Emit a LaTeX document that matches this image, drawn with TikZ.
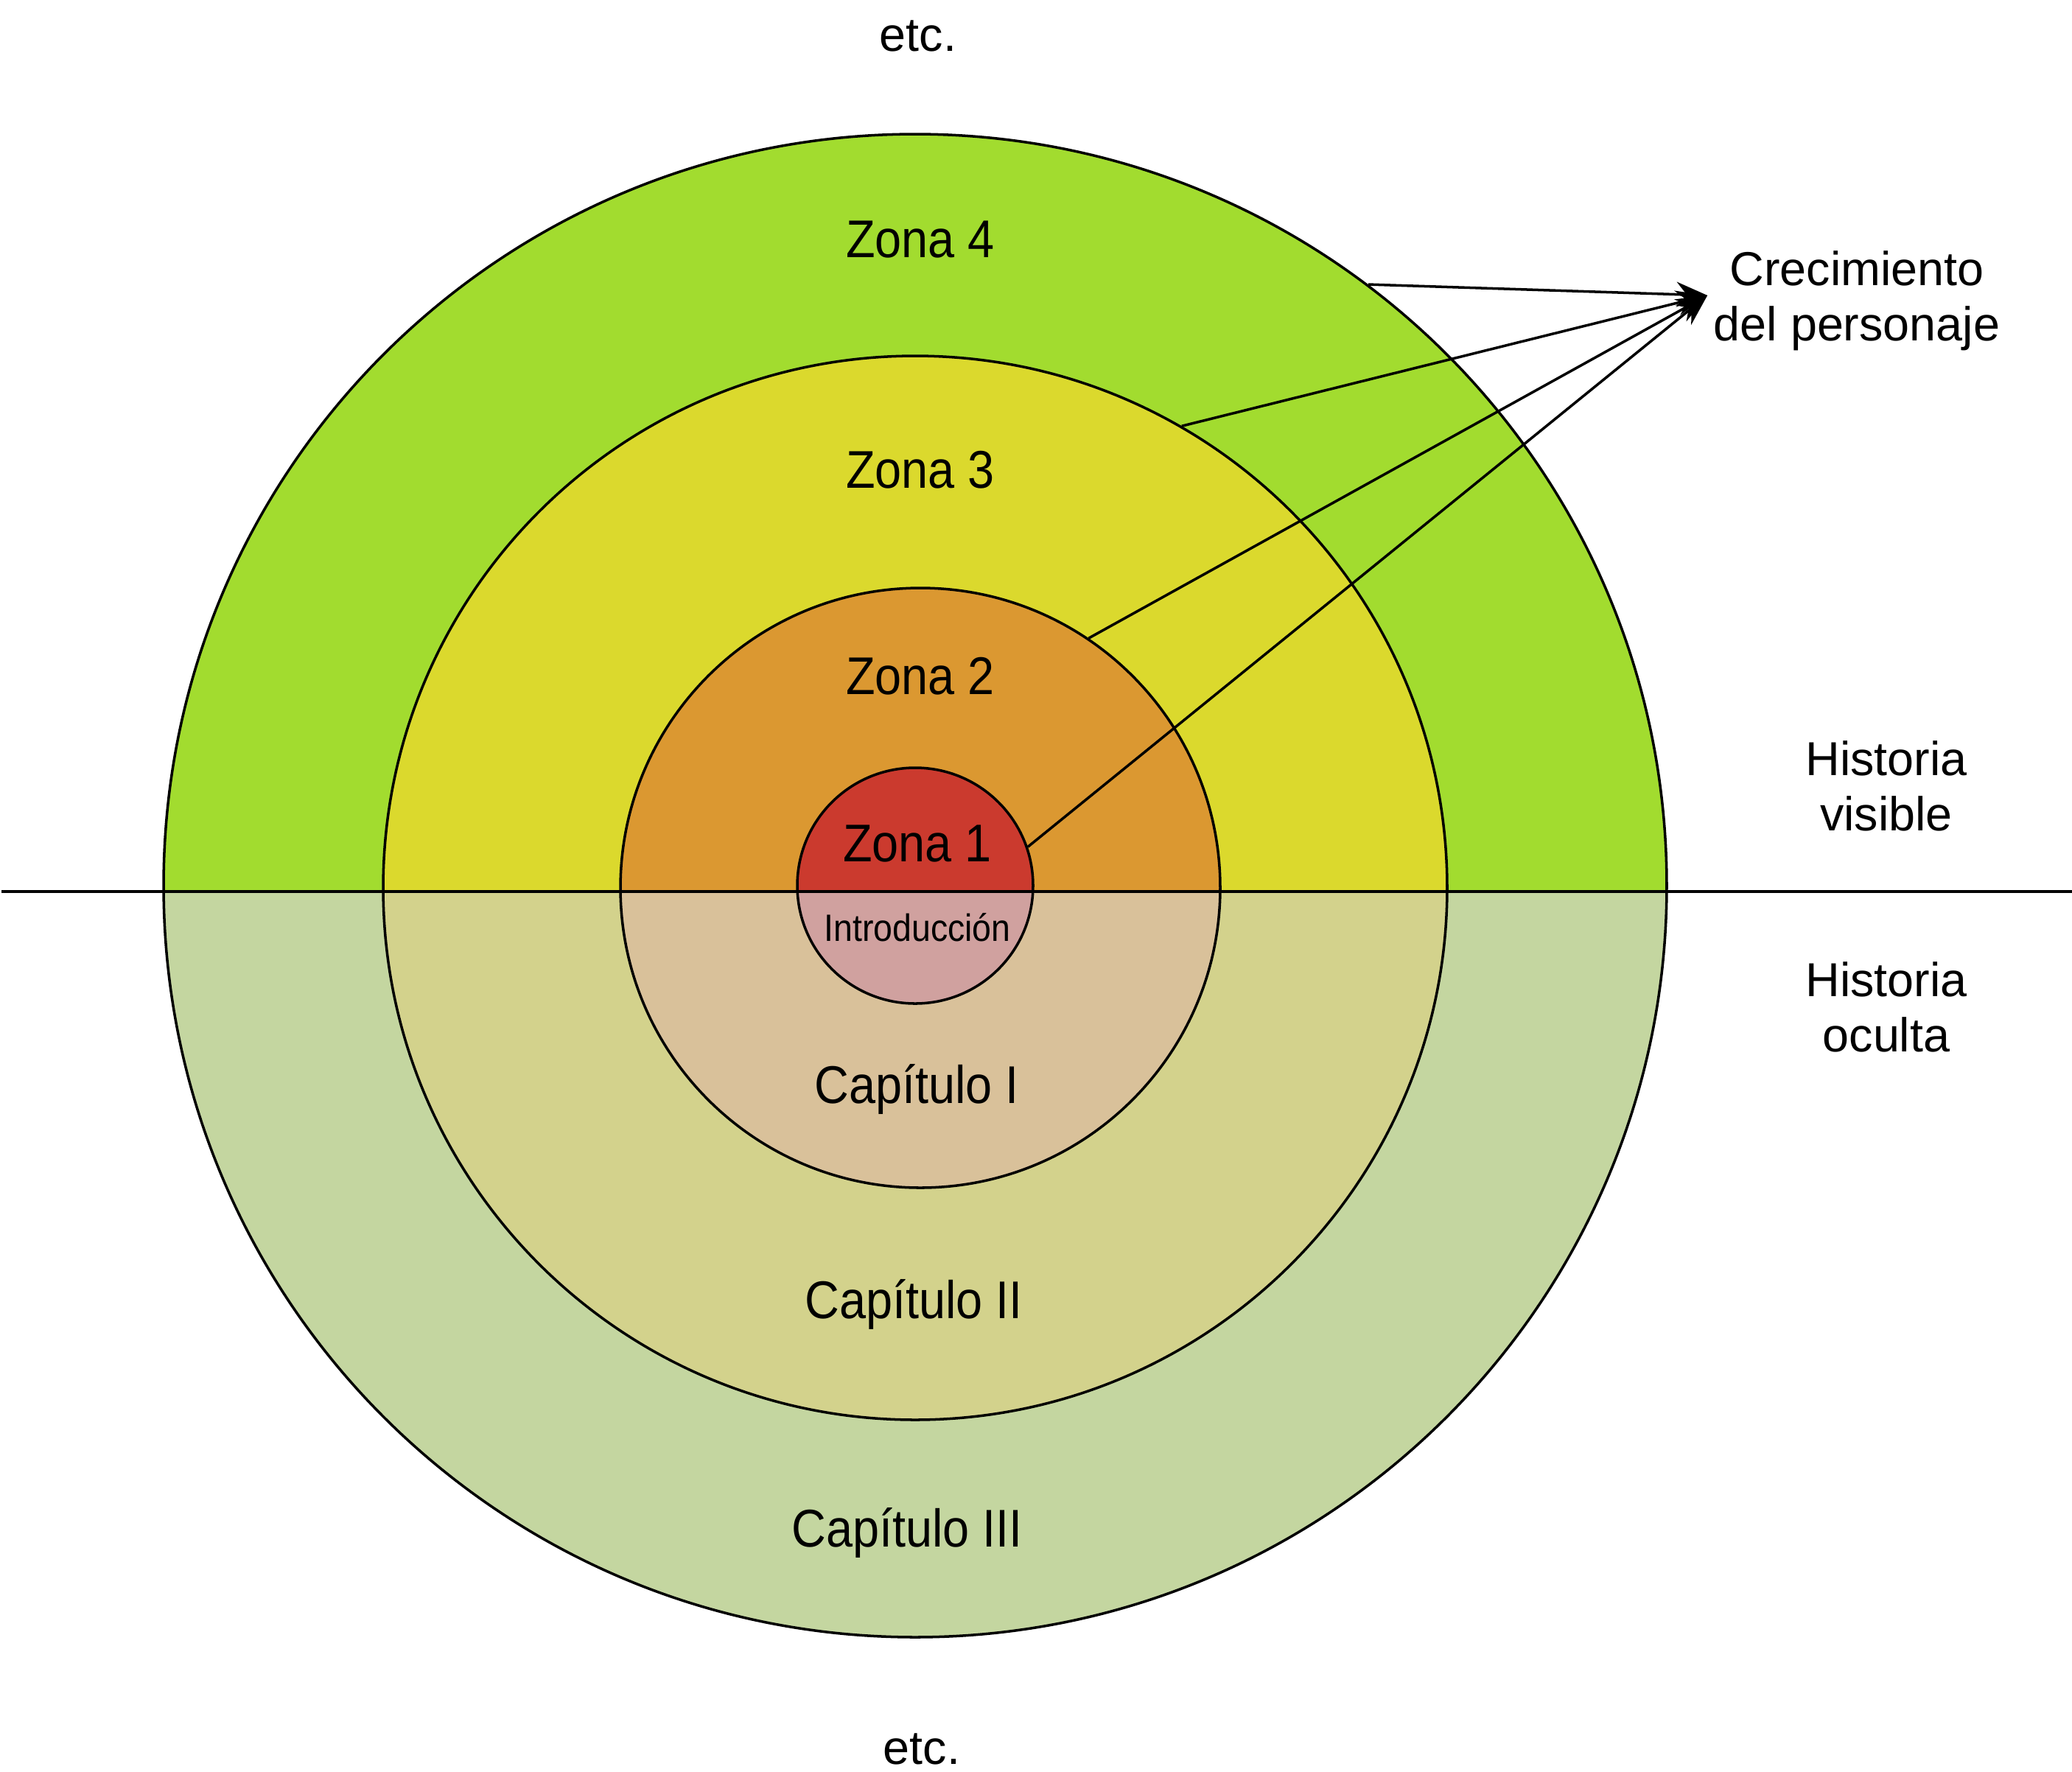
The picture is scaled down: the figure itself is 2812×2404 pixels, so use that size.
\documentclass[tikz,border=0pt]{standalone}
\usepackage{fontspec}
\setmainfont{Liberation Sans}
\newfontfamily\zonefont[FakeStretch=0.9]{Liberation Sans}
\usetikzlibrary{arrows.meta}
\definecolor{zfourtop}{HTML}{A2DC2F}
\definecolor{zfourbot}{HTML}{C4D6A0}
\definecolor{zthreetop}{HTML}{DBD92D}
\definecolor{zthreebot}{HTML}{D3D28C}
\definecolor{ztwotop}{HTML}{DB9831}
\definecolor{ztwobot}{HTML}{D9C19A}
\definecolor{zonetop}{HTML}{CB3A2E}
\definecolor{zonebot}{HTML}{D0A19F}
\tikzset{
  zone/.style 2 args={circle,draw,line width=1pt,inner sep=0pt,fill=#1,
    path picture={\fill[#2] ([yshift=-0.65mm]path picture bounding box.west)
      rectangle (path picture bounding box.south east);}},
  zlabel/.style={font=\zonefont\fontsize{20.5}{24}\selectfont,anchor=base},
  side/.style={align=center,font=\fontsize{18.4}{21.3}\selectfont}
}
\begin{document}
\begin{tikzpicture}[x=0.1mm,y=-0.1mm,>={Stealth[length=4.2mm,width=3.4mm,inset=1.4mm]}]
	\useasboundingbox (0,0) rectangle (2812,2404);
	% rings, largest first
	\foreach \n/\cx/\cy/\r/\ct/\cb in {z4/1242/1202/1020/zfourtop/zfourbot,
		z3/1242/1205/722/zthreetop/zthreebot,z2/1249/1205/407/ztwotop/ztwobot,
		z1/1242/1202/160/zonetop/zonebot}
	\node[zone={\ct}{\cb},minimum size={\r*0.2mm}] (\n) at (\cx,\cy) {};
	\draw[line width=1.1pt] (2,1210)--(2812,1210);
	% labels
	\node[zlabel] (l4) at (1249,349) {Zona 4};
	\node[zlabel] (l3) at (1249,662) {Zona 3};
	\node[zlabel] (l2) at (1249,942) {Zona 2};
	\node[zlabel] (l1) at (1245,1169) {Zona 1};
	\node[zlabel,font=\zonefont\fontsize{14.7}{17}\selectfont] (intro) at (1245,1277) {Introducción};
	\node[zlabel] (c1) at (1244,1497) {Capítulo I};
	\node[zlabel] (c2) at (1240,1789) {Capítulo II};
	\node[zlabel] (c3) at (1231,2099) {Capítulo III};
	\node[side] (etcup) at (1246,49) {etc.};
	\node[side] (etcdown) at (1251,2374) {etc.};
	\node[side] (visible) at (2560,1067) {Historia\\visible};
	\node[side] (hidden) at (2560,1367) {Historia\\oculta};
	\node[side,inner xsep=0.8mm] (grow) at (2520,408) {Crecimiento\\del personaje};
	\foreach \n/\a in {z4/53.4,z3/60.9,z2/56.6,z1/19.5}
	\draw[->,line width=1pt] (\n.\a)--(grow.178);
\end{tikzpicture}
\end{document}
